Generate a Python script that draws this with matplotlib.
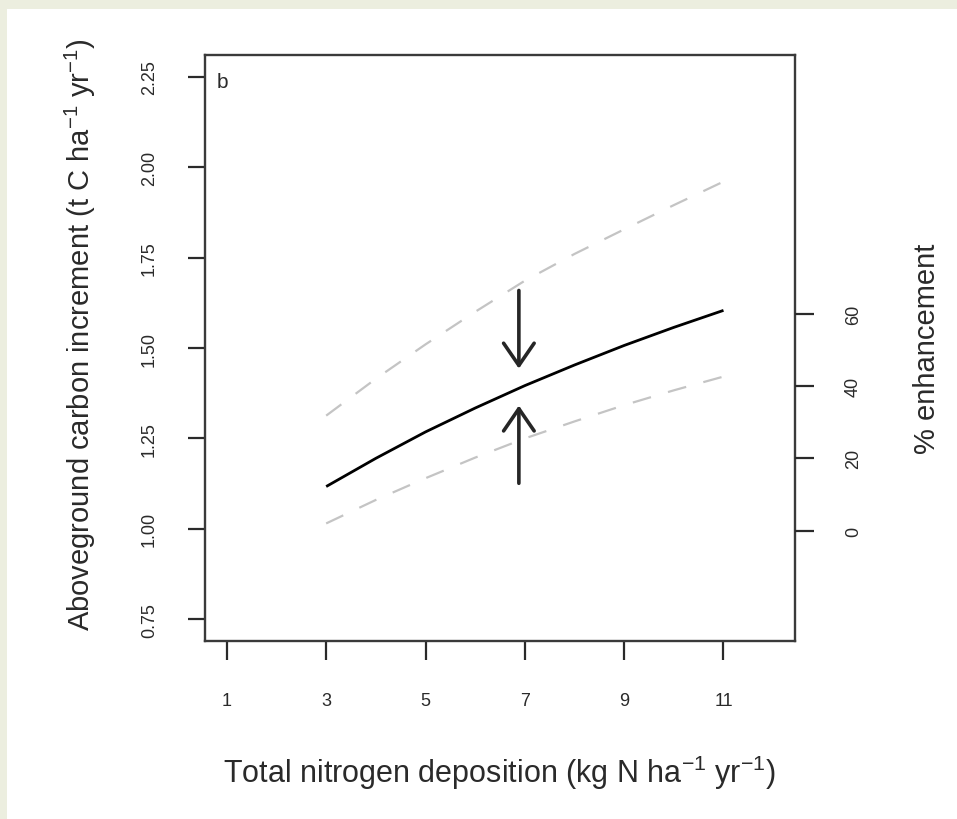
import matplotlib
matplotlib.use("Agg")
import matplotlib.pyplot as plt
from matplotlib.patches import Rectangle

plt.rcParams['font.family'] = ['Liberation Sans', 'DejaVu Sans']
plt.rcParams['mathtext.fontset'] = 'custom'
plt.rcParams['mathtext.rm'] = 'Liberation Sans'
plt.rcParams['mathtext.default'] = 'regular'

# ---- data ----
n_dep = [3, 4, 5, 6, 7, 8, 9, 10, 11]
carbon_mean = [1.117, 1.195, 1.268, 1.334, 1.396, 1.453, 1.507, 1.557, 1.604]
carbon_upper = [1.313, 1.415, 1.510, 1.600, 1.686, 1.760, 1.828, 1.895, 1.960]
carbon_lower = [1.015, 1.080, 1.140, 1.197, 1.250, 1.297, 1.342, 1.383, 1.421]

x_ticks = [1, 3, 5, 7, 9, 11]
y_ticks = [0.75, 1.00, 1.25, 1.50, 1.75, 2.00, 2.25]
y_tick_labels = ['0.75', '1.00', '1.25', '1.50', '1.75', '2.00', '2.25']
pct_ticks = [0, 20, 40, 60]
pct_base = 0.995   # carbon value corresponding to 0 % enhancement

arrow_x = 6.88
arrow_top = (1.659, 1.443)      # start, tip
arrow_bottom = (1.126, 1.341)   # start, tip

xlim = (0.56, 12.44)
ylim = (0.69, 2.31)

W, H = 957, 820
fig = plt.figure(figsize=(W / 100, H / 100), dpi=100, facecolor='#eceedf')
fig.patches.append(Rectangle((7 / W, 0), 1, (H - 10) / H, transform=fig.transFigure,
                             facecolor='white', edgecolor='none', zorder=-10))

L, R, T, B = 205, 795, 56, 642
ax = fig.add_axes([L / W, (H - B) / H, (R - L) / W, (B - T) / H])
ax.set_facecolor('white')

text_color = '#2a2a2a'
line_col = '#3a3a3a'

ax.plot(n_dep, carbon_upper, color='#c4c4c4', lw=1.6, linestyle=(0, (8.5, 8)))
ax.plot(n_dep, carbon_lower, color='#c4c4c4', lw=1.6, linestyle=(0, (8.5, 8)))
ax.plot(n_dep, carbon_mean, color='black', lw=2.0, solid_capstyle='butt')

for start, tip in (arrow_top, arrow_bottom):
    ax.annotate('', xy=(arrow_x, tip), xytext=(arrow_x, start),
                arrowprops=dict(arrowstyle='->,head_length=0.8,head_width=0.55',
                                mutation_scale=20,
                                color='#262626', lw=2.6, shrinkA=0, shrinkB=0))

ax.set_xlim(*xlim)
ax.set_ylim(*ylim)
ax.set_xticks(x_ticks)
ax.set_xticklabels([str(v) for v in x_ticks])
ax.set_yticks(y_ticks)
ax.set_yticklabels(y_tick_labels, rotation=90, va='center')

for s in ax.spines.values():
    s.set_color(line_col)
    s.set_linewidth(1.7)

tick_fs = 13
ax.tick_params(axis='x', direction='out', length=14, width=1.6, color='#2a2a2a',
               labelsize=tick_fs, pad=23, labelcolor=text_color)
ax.tick_params(axis='y', direction='out', length=12, width=1.6, color='#2a2a2a',
               labelsize=tick_fs, pad=22, labelcolor=text_color)

label_fs = 21
ax.set_xlabel(r'Total nitrogen deposition (kg N ha$^{-1}$ yr$^{-1}$)', fontsize=22,
              color=text_color)
ax.xaxis.set_label_coords(0.5, (B - 773) / (B - T))
ax.xaxis.label.set_va('center')
ax.set_ylabel(r'Aboveground carbon increment (t C ha$^{-1}$ yr$^{-1}$)', fontsize=label_fs,
              color=text_color)
ax.yaxis.set_label_coords((80 - L) / (R - L), 0.524)
ax.yaxis.label.set_va('center')

ax.text(0.02, 0.955, 'b', transform=ax.transAxes, fontsize=15, color=text_color,
        ha='left', va='center')

ax2 = ax.twinx()
ax2.set_ylim((ylim[0] - pct_base) * 100, (ylim[1] - pct_base) * 100)
ax2.set_yticks(pct_ticks)
ax2.set_yticklabels([str(v) for v in pct_ticks], rotation=90, va='center')
for s in ax2.spines.values():
    s.set_visible(False)
ax2.tick_params(axis='y', direction='out', length=14, width=1.6, color='#2a2a2a',
                labelsize=tick_fs, pad=22, labelcolor=text_color)
ax2.set_ylabel('% enhancement', fontsize=label_fs, color=text_color, rotation=90)
ax2.yaxis.set_label_coords((927 - L) / (R - L), 0.5)
ax2.yaxis.label.set_va('center')

fig.savefig('out.png', dpi=100, facecolor=fig.get_facecolor())
